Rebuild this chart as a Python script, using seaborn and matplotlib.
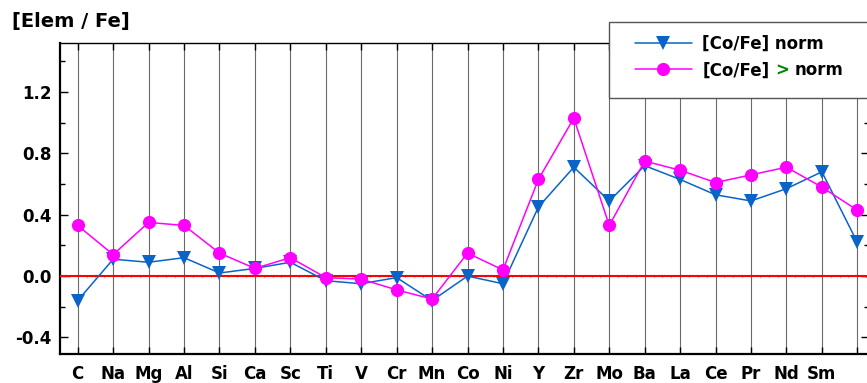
import numpy as np
import matplotlib
matplotlib.use("Agg")
import matplotlib.pyplot as plt
from matplotlib.patches import Rectangle
from matplotlib.ticker import MultipleLocator, FixedLocator
import seaborn as sns

# Abundance ratios [Elem/Fe] for the two cobalt groups
elements = ["C", "Na", "Mg", "Al", "Si", "Ca", "Sc", "Ti", "V", "Cr", "Mn",
            "Co", "Ni", "Y", "Zr", "Mo", "Ba", "La", "Ce", "Pr", "Nd", "Sm", ""]
co_fe_norm = [-0.16, 0.11, 0.09, 0.12, 0.02, 0.05, 0.09, -0.03, -0.05, -0.01,
              -0.16, 0.00, -0.05, 0.45, 0.71, 0.49, 0.72, 0.63, 0.53, 0.49,
              0.57, 0.68, 0.22]
co_fe_high = [0.33, 0.14, 0.35, 0.33, 0.15, 0.05, 0.12, -0.01, -0.02, -0.09,
              -0.15, 0.15, 0.04, 0.63, 1.03, 0.33, 0.75, 0.69, 0.61, 0.66,
              0.71, 0.58, 0.43]
series_labels = ["[Co/Fe] norm", "[Co/Fe] > norm"]
y_ticks = [-0.4, 0.0, 0.4, 0.8, 1.2]

BLUE = "#0a64c8"
PINK = "#ff00ff"
GREEN = "#008000"

sns.set_style("white")
plt.rcParams["font.family"] = ["DejaVu Sans"]
plt.rcParams["font.weight"] = "bold"
plt.rcParams["axes.unicode_minus"] = False
plt.rcParams["text.color"] = "black"
plt.rcParams["xtick.color"] = "black"
plt.rcParams["ytick.color"] = "black"

W, H = 867, 383
fig = plt.figure(figsize=(W / 100, H / 100), dpi=100)
ax = fig.add_axes([60 / W, 1 - 353.5 / H, (869 - 60) / W, (353.5 - 43) / H])

pos = np.arange(len(elements))

sns.lineplot(x=pos, y=co_fe_norm, ax=ax, color=BLUE, marker="v",
             markersize=10.5, markeredgewidth=0, linewidth=1.1,
             sort=False, label=series_labels[0], zorder=4)
sns.lineplot(x=pos, y=co_fe_high, ax=ax, color=PINK, marker="o",
             markersize=9.5, markeredgewidth=0, linewidth=1.1,
             sort=False, label=series_labels[1], zorder=5)
handles, _ = ax.get_legend_handles_labels()
if ax.get_legend() is not None:
    ax.get_legend().remove()

# zero reference line
ax.axhline(0, color="#ff0000", lw=1.5, zorder=3)

ax.set_xlim(-0.5, 22.33)
ax.set_ylim(-0.505, 1.52)

ax.set_xticks(pos)
ax.set_xticklabels(elements, fontsize=12, fontweight="bold", color="black")
ax.yaxis.set_major_locator(FixedLocator(y_ticks))
ax.set_yticklabels([f"{v:.1f}" for v in y_ticks], fontsize=12,
                   fontweight="bold", color="black")
ax.yaxis.set_minor_locator(MultipleLocator(0.2))

ax.grid(axis="x", color="#6a6a6a", lw=0.8, zorder=1)
ax.set_axisbelow(True)
ax.set_xlabel("")
ax.set_ylabel("")

ax.tick_params(axis="x", which="major", direction="in", length=5, width=1.0,
               top=True, bottom=True, pad=8, colors="black")
ax.tick_params(axis="y", which="major", direction="in", length=5.5, width=1.0,
               left=True, right=True, pad=6, colors="black")
ax.tick_params(axis="y", which="minor", direction="in", length=3.5, width=1.0,
               left=True, right=True)
for side, sp in ax.spines.items():
    sp.set_color("black")
    sp.set_linewidth(1.6 if side in ("left", "bottom") else 1.0)

# faint tick marks along the zero line
frac0 = (0 - ax.get_ylim()[0]) / (ax.get_ylim()[1] - ax.get_ylim()[0])
sec = ax.secondary_xaxis(frac0)
for sp in sec.spines.values():
    sp.set_visible(False)
sec.set_xticks(pos)
sec.xaxis.set_minor_locator(MultipleLocator(0.25))
sec.tick_params(which="both", direction="inout", length=1.8, width=0.5,
                colors="#333333", labeltop=False, labelbottom=False)

# legend box, running off the right edge
frame = Rectangle((609 / W, 1 - 97.7 / H), (880 - 609) / W, (97.7 - 21.7) / H,
                  transform=fig.transFigure, facecolor="white",
                  edgecolor="#555555", linewidth=1.0, zorder=5)
fig.add_artist(frame)

leg = fig.legend(handles, [series_labels[0], series_labels[1].split(">")[0].strip()],
                 loc="upper left", bbox_to_anchor=(635 / W, 1 - 35 / H),
                 bbox_transform=fig.transFigure, borderaxespad=0, borderpad=0,
                 prop={"weight": "bold", "size": 12}, frameon=False,
                 labelspacing=0.5, handlelength=3.4, handletextpad=0.65)
leg.set_zorder(6)
for t in leg.get_texts():
    t.set_color("black")

fig.text(12 / W, 1 - 21 / H, "[Elem / Fe]", fontsize=14, fontweight="bold",
         ha="left", va="center", color="black")

# the rest of the second legend entry: a green ">" then "norm"
fig.canvas.draw()
renderer = fig.canvas.get_renderer()
txt = leg.get_texts()[1]
fp = txt.get_fontproperties()
x_disp, y_disp = txt.get_transform().transform(txt.get_position())


def text_width(s):
    probe = fig.text(0, 0, s, fontproperties=fp)
    w = probe.get_window_extent(renderer).width
    probe.remove()
    return w


full = series_labels[1]
upto_gt = full.split(">")[0] + ">"
fig.text((x_disp + text_width(upto_gt)) / W, y_disp / H, ">", color=GREEN,
         fontproperties=fp, ha="right", va="baseline", zorder=20)
fig.text((x_disp + text_width(full)) / W, y_disp / H, full.split(">")[1].strip(),
         color="black", fontproperties=fp, ha="right", va="baseline", zorder=20)

fig.savefig("out.png", dpi=100)
